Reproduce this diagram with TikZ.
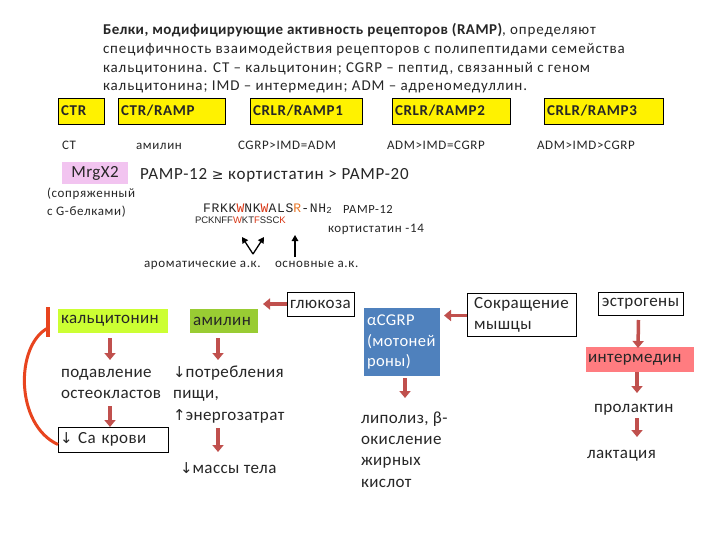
\documentclass[tikz,border=0pt]{standalone}
\usepackage{fontspec}
\setmainfont{Carlito}
\newfontfamily\calA[LetterSpace=4.5]{Carlito}
\newfontfamily\calT[LetterSpace=6]{Carlito}
\newfontfamily\calTB[LetterSpace=3]{Carlito}
\newfontfamily\calB[LetterSpace=5]{Carlito}
\newfontfamily\calC[LetterSpace=2.5]{Carlito}
\newfontfamily\monof[LetterSpace=6]{Liberation Mono}
\newfontfamily\arialf{Liberation Sans}
\newfontfamily\dejav{DejaVu Sans}
\usetikzlibrary{arrows.meta}
\definecolor{arrred}{HTML}{C0504D}
\definecolor{curvered}{HTML}{E8441E}
\definecolor{pinkbox}{HTML}{F2C4F0}
\definecolor{limebox}{HTML}{CCFF33}
\definecolor{greenbox}{HTML}{99CC33}
\definecolor{bluebox}{HTML}{4F81BD}
\definecolor{redbox}{HTML}{FF7C80}
\definecolor{aared}{HTML}{D83412}
\definecolor{aaorange}{HTML}{E8782A}
\definecolor{txtgray}{HTML}{262626}
\newcommand{\dnarr}{{\dejav\fontsize{15}{18}\selectfont ↓}}
\newcommand{\uparr}{{\dejav\fontsize{15}{18}\selectfont ↑}}
\begin{document}
\begin{tikzpicture}[x=1pt,y=-1pt,
  every node/.style={inner sep=0pt, outer sep=0pt, text=txtgray},
  ybox/.style={draw=black, line width=0.6pt, fill=yellow, anchor=north west,
    font=\calA\bfseries\fontsize{15}{17}\selectfont, inner xsep=3pt, align=left, minimum height=26pt},
  lig/.style={anchor=base west, font=\calB\fontsize{13}{15}\selectfont},
  big/.style={font=\calC\fontsize{17}{21}\selectfont},
  plain/.style={big, anchor=base west, align=left},
  framebox/.style={draw=black, line width=0.8pt, anchor=north west, big, inner xsep=2pt, align=left},
  bigarrow/.style={draw=arrred, line width=3.5pt, -{Triangle[length=7pt,width=11pt]}},
  thinarrow/.style={draw=black, line width=1.3pt, -{Triangle[length=6pt,width=6.5pt]}},
  curveline/.style={draw=curvered, line width=3pt}
]
\useasboundingbox (0,0) rectangle (720,540);
\fill[white] (0,0) rectangle (720,540);

% title (anchor = baseline of last line)
\node[anchor=base west, align=left, font=\calT\fontsize{15}{18.8}\selectfont] (title) at (103,91)
 {{\calTB\bfseries Белки, модифицирующие активность рецепторов (RAMP)}, определяют\\
  специфичность взаимодействия рецепторов с полипептидами семейства\\
  кальцитонина. CT – кальцитонин; CGRP – пептид, связанный с геном\\
  кальцитонина; IMD – интермедин; ADM – адреномедуллин.};

% receptor boxes
\node[ybox, text width=40pt] (ctr) at (58,98) {CTR};
\node[ybox, text width=101pt] (ctrramp) at (118,98) {CTR/RAMP};
\node[ybox, text width=106pt] (crlr1) at (250,98) {CRLR/RAMP1};
\node[ybox, text width=112pt] (crlr2) at (392,98) {CRLR/RAMP2};
\node[ybox, text width=113pt] (crlr3) at (544,98) {CRLR/RAMP3};

% ligand order
\node[lig] (lig1) at (62,150) {CT};
\node[lig] (lig2) at (136,150) {амилин};
\node[lig] (lig3) at (238,150) {CGRP>IMD=ADM};
\node[lig] (lig4) at (387,150) {ADM>IMD=CGRP};
\node[lig] (lig5) at (537,150) {ADM>IMD>CGRP};

% MrgX2
\node[fill=pinkbox, anchor=north west, big, inner xsep=3pt, minimum width=66pt, minimum height=22pt, align=left] (mrg) at (62,162) {MrgX2};
\node[anchor=base west, font=\calA\fontsize{17}{21}\selectfont] (pamp) at (140,180) {PAMP-12 {\dejav\fontsize{14}{16}\selectfont ≥} кортистатин > PAMP-20};
\node[anchor=base west, align=left, font=\calB\fontsize{13}{18}\selectfont] (coupled) at (47,215) {(сопряженный\\с G-белками)};

\node[anchor=base west, font=\monof\fontsize{13}{14}\selectfont] (seq1) at (203,212)
 {FRKK\textcolor{aared}{W}NK\textcolor{aared}{W}ALS\textcolor{aaorange}{R}-NH\textsubscript{2}};
\node[anchor=base west, font=\calB\fontsize{12.5}{14}\selectfont] (pamp12) at (343,214) {PAMP-12};
\node[anchor=base west, font=\arialf\fontsize{9.5}{11}\selectfont] (seq2) at (195,223)
 {PCKNFF\textcolor{aared}{W}KT\textcolor{aared}{F}SSC\textcolor{aared}{K}};
\node[anchor=base west, font=\calB\fontsize{13}{15}\selectfont] (cort14) at (328,233) {кортистатин -14};

\coordinate (vtip) at (253,254);
\coordinate (vleft) at (242,237);
\coordinate (vright) at (264,237);
\coordinate (upbot) at (295,257);
\coordinate (uptop) at (295,235);
\draw[thinarrow] (vtip) -- (vleft);
\draw[thinarrow] (vtip) -- (vright);
\draw[thinarrow] (upbot) -- (uptop);
\node[lig] (arom) at (144,267) {ароматические а.к.};
\node[lig] (basic) at (275,267) {основные а.к.};

% calcitonin column
\node[fill=limebox, anchor=north west, big, inner xsep=3pt, minimum width=110pt, minimum height=24pt, align=left, text width=104pt] (calc) at (58,309) {кальцитонин};
\node[plain] (osteo) at (61,398) {подавление\\остеокластов};
\node[framebox, minimum width=110pt, minimum height=25pt, text width=106pt] (ca) at (58,427) {\dnarr\ Са крови};

% amylin column
\node[fill=greenbox, anchor=north west, big, inner xsep=3pt, minimum width=68pt, minimum height=24pt, align=left, text width=62pt] (amyl) at (190,309) {амилин};
\node[framebox, minimum width=67pt, minimum height=24pt] (gluc) at (287,292) {глюкоза};
\node[plain, font=\calC\fontsize{17}{21.5}\selectfont] (food) at (173,420) {\dnarr потребления\\пищи,\\\uparr энергозатрат};
\node[plain] (mass) at (180,473) {\dnarr массы тела};

% CGRP
\node[fill=bluebox, anchor=north west, font=\calC\fontsize{16.5}{20.5}\selectfont, text=white, inner xsep=3pt, inner ysep=4pt, minimum width=76pt, minimum height=68pt, align=left, text width=70pt] (cgrp) at (364,308) {αCGRP\\(мотоней\\роны)};
\node[framebox, minimum width=109pt, minimum height=43pt, font=\calC\fontsize{17}{21}\selectfont] (contr) at (467,293) {Сокращение\\мышцы};
\node[plain, font=\calC\fontsize{17}{21.2}\selectfont] (lip) at (361,487) {липолиз, β-\\окисление\\жирных\\кислот};

% intermedin column
\node[framebox, minimum width=85pt, minimum height=23pt] (estr) at (598,292) {эстрогены};
\node[fill=redbox, anchor=north west, big, inner xsep=2pt, minimum width=108pt, minimum height=25pt, align=left, text width=104pt] (imd) at (586,347) {интермедин};
\node[plain] (prl) at (594,412) {пролактин};
\node[plain] (lact) at (587,458) {лактация};

% arrows (yshift is in canvas direction: negative = downward)
\draw[bigarrow] ([xshift=-3pt,yshift=-5pt]calc.south) -- ([xshift=-3pt,yshift=-27pt]calc.south);
\draw[bigarrow] ([xshift=-3pt,yshift=21pt]ca.north) -- ([xshift=-3pt]ca.north);
\draw[bigarrow] ([xshift=-6pt,yshift=-5pt]amyl.south) -- ([xshift=-6pt,yshift=-27pt]amyl.south);
\draw[bigarrow] ([xshift=-6pt,yshift=-95pt]amyl.south) -- ([xshift=-6pt,yshift=-119pt]amyl.south);
\draw[bigarrow] (gluc.west) -- ([xshift=-24pt]gluc.west);
\draw[bigarrow] ([yshift=-1pt]contr.west) -- ([yshift=-1pt,xshift=4pt]contr.west -| cgrp.east);
\draw[bigarrow] ([xshift=3pt,yshift=-2pt]cgrp.south) -- ([xshift=3pt,yshift=-22pt]cgrp.south);
\draw[bigarrow] ([xshift=-2pt,yshift=-5pt]estr.south) -- ([xshift=-2pt,yshift=-1pt]imd.north);
\draw[bigarrow] ([xshift=-3pt]imd.south) -- ([xshift=-3pt,yshift=-21pt]imd.south);
\draw[bigarrow] ([xshift=-3pt,yshift=-46pt]imd.south) -- ([xshift=-3pt,yshift=-65pt]imd.south);

% feedback curve
\coordinate (barT) at (48,307);
\coordinate (barB) at (48,337);
\draw[curveline] ([yshift=-5pt]ca.west) .. controls (15,425) and (15,345) .. (48,328);
\draw[draw=curvered, line width=4pt] (barT) -- (barB);
\end{tikzpicture}
\end{document}
